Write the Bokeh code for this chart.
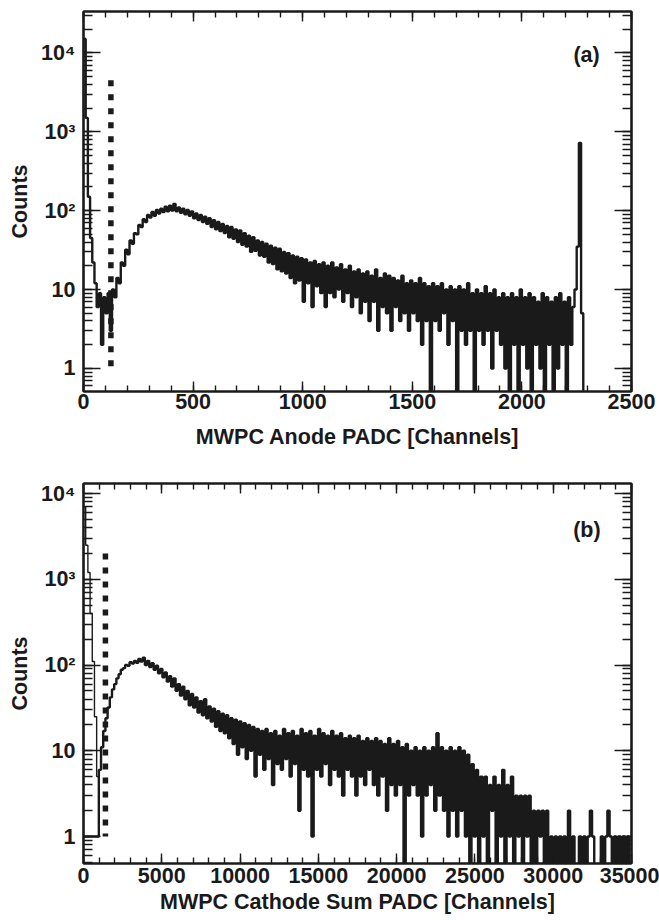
from bokeh.plotting import figure
from bokeh.models import (LogAxis, LinearAxis, Range1d, SingleIntervalTicker,
                          LogTicker, Label, CustomJSTickFormatter)
from bokeh.layouts import column
from bokeh.embed import file_html
from bokeh.resources import INLINE

FONT = "Liberation Sans"
INK = "#1a1a1a"

# ---------------- data ----------------
# Panel (a): MWPC anode PADC histogram, 10-channel bins starting at 0
a_bin_width = 10
a_counts = [
    15000, 1500, 150, 45, 22, 12, 6, 9, 2, 8,
    5, 9, 3, 10, 8, 14, 12, 22, 20, 32,
    28, 42, 38, 52, 50, 66, 62, 78, 72, 88,
    82, 96, 86, 102, 92, 106, 96, 112, 98, 116,
    100, 122, 98, 110, 94, 106, 90, 102, 86, 98,
    80, 92, 76, 88, 72, 84, 68, 80, 62, 76,
    58, 72, 55, 68, 52, 64, 46, 62, 44, 58,
    40, 56, 37, 52, 35, 48, 30, 46, 31, 42,
    27, 40, 26, 38, 22, 36, 21, 34, 18, 33,
    17, 30, 16, 29, 14, 27, 12, 26, 13, 25,
    7, 24, 12, 22, 6, 23, 11, 21, 9, 22,
    6, 20, 9, 22, 8, 19, 10, 21, 7, 18,
    9, 20, 6, 17, 8, 18, 5, 16, 7, 17,
    4, 15, 7, 18, 3, 14, 6, 16, 5, 15,
    3, 14, 6, 13, 4, 15, 5, 12, 3, 13,
    5, 12, 4, 14, 2, 12, 4, 11, 0, 12,
    4, 11, 3, 12, 5, 10, 2, 11, 4, 10,
    0, 11, 3, 10, 2, 12, 3, 9, 0, 10,
    3, 9, 2, 11, 3, 9, 1, 10, 3, 8,
    2, 9, 1, 8, 0, 9, 2, 8, 0, 10,
    2, 8, 1, 9, 0, 8, 2, 7, 1, 9,
    0, 8, 2, 7, 0, 8, 1, 9, 2, 7,
    0, 8, 2, 6, 10, 35, 720, 5, 0, 0,
]
a_cut_channel = 125
a_cut_range = [4500, 1]

# Panel (b): MWPC cathode sum PADC histogram, 140-channel bins starting at 0
b_bin_width = 140
b_counts = [
    1, 1, 1, 1, 1, 1, 1, 6, 11, 17,
    24, 32, 42, 52, 60, 70, 78, 88, 92, 100,
    98, 108, 104, 112, 106, 118, 110, 122, 100, 112,
    95, 105, 88, 98, 80, 90, 72, 82, 64, 74,
    56, 70, 50, 60, 44, 56, 40, 50, 34, 46,
    32, 42, 28, 38, 26, 40, 24, 33, 22, 31,
    19, 29, 17, 27, 16, 26, 14, 24, 12, 23,
    9, 22, 11, 21, 8, 20, 10, 19, 5, 18,
    9, 17, 6, 18, 8, 16, 4, 17, 7, 15,
    6, 18, 8, 16, 5, 17, 7, 15, 2, 18,
    6, 16, 5, 17, 1, 15, 6, 18, 5, 16,
    7, 15, 4, 17, 6, 15, 5, 16, 3, 14,
    6, 15, 5, 14, 3, 15, 5, 13, 4, 14,
    6, 13, 4, 14, 3, 13, 5, 12, 2, 14,
    4, 12, 3, 13, 4, 11, 0, 12, 3, 10,
    4, 11, 3, 10, 1, 11, 3, 10, 4, 11,
    2, 16, 3, 11, 2, 10, 1, 11, 2, 10,
    1, 11, 2, 10, 1, 9, 0, 7, 1, 6,
    0, 5, 1, 5, 0, 4, 2, 5, 0, 4,
    1, 6, 0, 4, 1, 5, 0, 3, 1, 3,
    0, 3, 1, 3, 0, 2, 0, 2, 1, 2,
    0, 2, 0, 1, 0, 1, 0, 1, 0, 1,
    0, 2, 0, 1, 0, 0, 1, 0, 1, 0,
    1, 2, 1, 0, 0, 0, 1, 0, 1, 2,
    1, 0, 1, 0, 1, 0, 1, 0, 1, 0,
]
# pedestal peak near zero channels (separate thin histogram)
b_pedestal = [7000, 2500, 1200, 400, 110, 25, 5]
b_cut_channel = 1400
b_cut_range = [2000, 1]

y_tick_values = [1, 10, 100, 1000, 10000]
y_tick_labels = ["1", "10", "10\u00b2", "10\u00b3", "10\u2074"]

ZERO_FLOOR = 0.1  # where empty bins are drawn (below the visible range)


def hist_steps(counts, width):
    xs, ys = [], []
    for i, c in enumerate(counts):
        v = c if c > 0 else ZERO_FLOOR
        xs.extend([i * width, (i + 1) * width])
        ys.extend([v, v])
    return xs, ys


def y_formatter():
    return CustomJSTickFormatter(
        args=dict(vals=y_tick_values, labels=y_tick_labels),
        code="""
for (let i = 0; i < vals.length; i++) {
  if (Math.abs(vals[i] - tick) < 1e-6 * vals[i]) { return labels[i]; }
}
return '';
""")


def style_axis(ax, major, minor, labels=True):
    ax.major_tick_in = major
    ax.major_tick_out = 0
    ax.minor_tick_in = minor
    ax.minor_tick_out = 0
    ax.major_tick_line_width = 1.4
    ax.minor_tick_line_width = 1.4
    ax.major_tick_line_color = INK
    ax.minor_tick_line_color = INK
    ax.axis_line_width = 2.2
    ax.axis_line_color = INK
    if labels:
        ax.major_label_text_font = FONT
        ax.major_label_text_font_style = "bold"
        ax.major_label_text_font_size = "21.5px"
        ax.major_label_text_color = INK
    else:
        ax.formatter = CustomJSTickFormatter(code="return '';")
        ax.major_label_text_font_size = "0px"
        ax.major_label_standoff = 0
    ax.axis_label_text_font = FONT
    ax.axis_label_text_font_style = "bold"
    ax.axis_label_text_font_size = "21.5px"
    ax.axis_label_text_color = INK


def make_panel(height, x_end, x_interval, y_lo, y_hi, counts, width,
               cut_x, cut_range, tag, tag_x, tag_y, xtitle,
               top_border, bottom_border, lab_standoff, title_standoff,
               pedestal=None):
    p = figure(width=659, height=height,
               x_range=Range1d(0, x_end), y_range=Range1d(y_lo, y_hi),
               y_axis_type="log", output_backend="svg", toolbar_location=None,
               min_border_left=83, min_border_right=28,
               min_border_top=top_border, min_border_bottom=bottom_border)
    p.grid.visible = False
    p.outline_line_color = INK
    p.outline_line_width = 2
    p.background_fill_color = "white"
    p.border_fill_color = "white"

    xb = p.xaxis[0]
    xb.ticker = SingleIntervalTicker(interval=x_interval, num_minor_ticks=5)
    style_axis(xb, 10, 6)
    xb.axis_label = xtitle
    xb.major_label_standoff = lab_standoff
    xb.axis_label_standoff = title_standoff

    yl = p.yaxis[0]
    yl.ticker = LogTicker(num_minor_ticks=10)
    yl.formatter = y_formatter()
    style_axis(yl, 17, 9)
    yl.axis_label = "Counts"
    yl.major_label_standoff = 8
    yl.axis_label_standoff = 6

    top = LinearAxis(ticker=SingleIntervalTicker(interval=x_interval, num_minor_ticks=5))
    style_axis(top, 10, 6, labels=False)
    p.add_layout(top, "above")

    right = LogAxis(ticker=LogTicker(num_minor_ticks=10))
    style_axis(right, 17, 9, labels=False)
    p.add_layout(right, "right")

    xs, ys = hist_steps(counts, width)
    p.line(xs, ys, line_color=INK, line_width=2.4)
    if pedestal is not None:
        pxs, pys = hist_steps(pedestal, width)
        p.line(pxs, pys, line_color=INK, line_width=1.4)

    p.segment(x0=[cut_x], y0=[cut_range[0]], x1=[cut_x], y1=[cut_range[1]],
              line_color=INK, line_width=5.5, line_dash="6 8")

    p.add_layout(Label(x=tag_x, y=tag_y, text=tag, text_font=FONT,
                       text_font_style="bold", text_font_size="21.5px",
                       text_align="center", text_baseline="middle",
                       text_color=INK))
    return p


pa = make_panel(460, 2500, 500, 0.51, 33500, a_counts, a_bin_width,
                a_cut_channel, a_cut_range, "(a)", 2295, 9400,
                "MWPC Anode PADC [Channels]", 11, 69, 2, 13)
pb = make_panel(458, 35000, 5000, 0.485, 13100, b_counts, b_bin_width,
                b_cut_channel, b_cut_range, "(b)", 32150, 3800,
                "MWPC Cathode Sum PADC [Channels]", 23, 55, 4, 4,
                pedestal=b_pedestal)

layout = column(pa, pb)
open("out.html", "w").write(file_html(layout, INLINE))
